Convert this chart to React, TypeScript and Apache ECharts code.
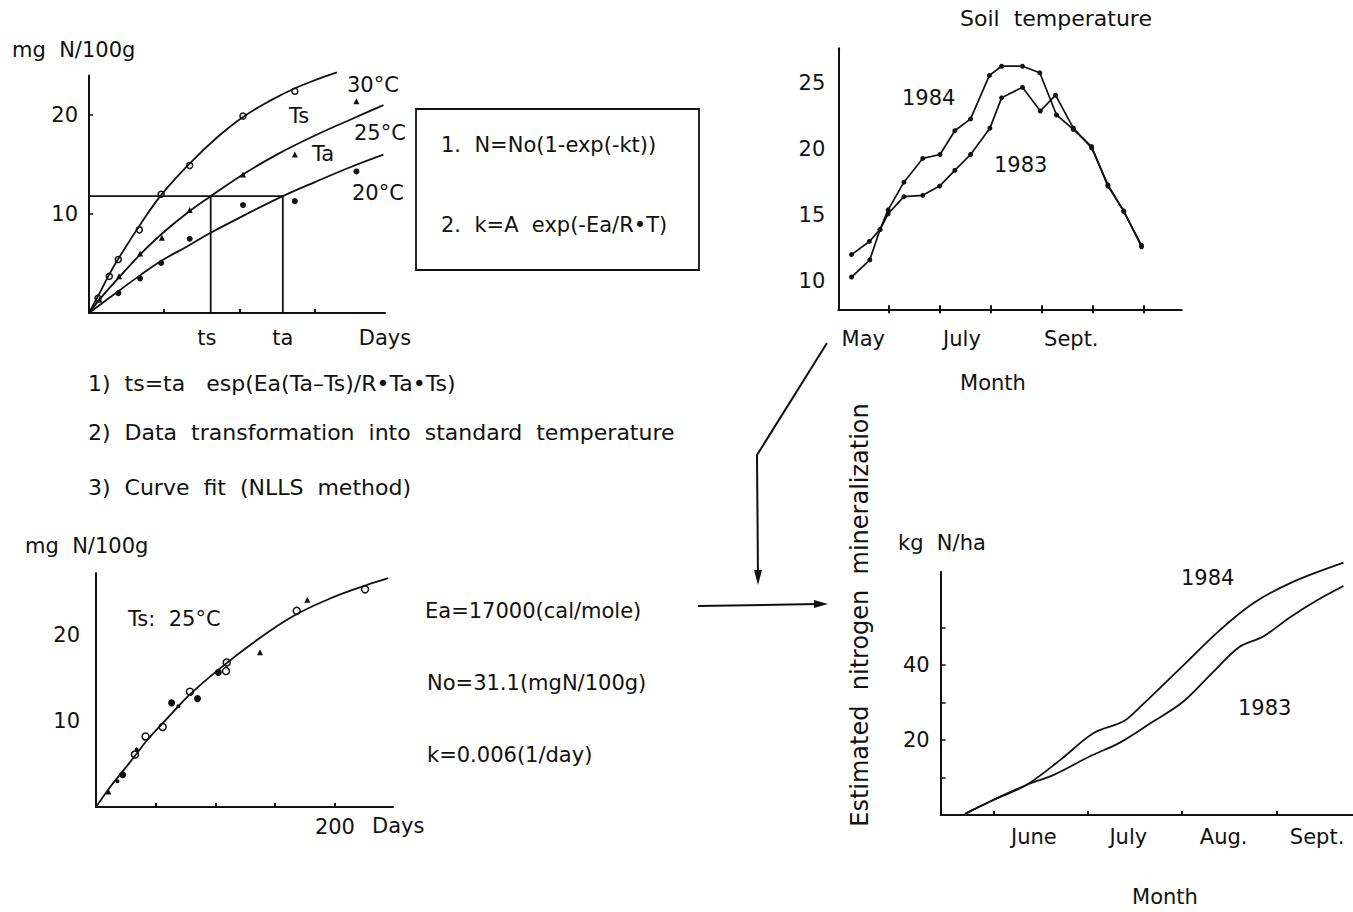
import React, { useEffect, useRef } from "react";
import * as echarts from "echarts";

// ---------- Panel 1: incubation curves (x in tick units, y mg N/100g) ----------
const curve30 = [[0,0],[0.12,1.7],[0.27,3.9],[0.4,5.6],[0.67,8.8],[0.96,11.9],[1.34,15.1],[1.7,17.7],[2.05,19.8],[2.4,21.4],[2.74,22.7],[3.0,23.5],[3.3,24.3]];
const curve25 = [[0,0],[0.2,1.9],[0.4,3.6],[0.68,5.9],[0.97,8.0],[1.34,10.3],[1.62,11.8],[2.05,14.0],[2.5,16.0],[3.0,17.9],[3.5,19.6],[3.92,21.0]];
const curve20 = [[0,0],[0.39,2.2],[0.68,3.8],[0.97,5.3],[1.3,6.7],[1.62,8.1],[2.1,10.0],[2.58,11.8],[3.0,13.2],[3.5,14.8],[3.92,16.0]];
const pts30 = [[0.12,1.5],[0.27,3.7],[0.39,5.4],[0.67,8.4],[0.96,12.0],[1.34,14.9],[2.05,19.9],[2.74,22.4]];
const pts25 = [[0.14,1.35],[0.4,3.7],[0.68,6.0],[0.97,7.6],[1.34,10.4],[2.05,14.0],[2.74,16.0],[3.56,21.4]];
const pts20 = [[0.39,2.0],[0.68,3.5],[0.96,5.05],[1.34,7.5],[2.05,10.9],[2.74,11.3],[3.56,14.3]];
const level = 11.8;
const tsDay = 1.62;
const taDay = 2.58;
const p1XMax = 3.94;
const p1XTicks = [1, 2, 3];
const p1XLabelPos = [1.57, 2.58, 3.94];
const p1XLabelText = ["ts", "ta", "Days"];
const p1YLabels = [10, 20];

// ---------- Panel 2: soil temperature (x in months from May 1) ----------
const soil1984 = [[0.26,10.3],[0.62,11.6],[0.82,13.9],[0.98,15.4],[1.29,17.5],[1.66,19.3],[2.0,19.6],[2.29,21.4],[2.6,22.3],[2.97,25.6],[3.21,26.3],[3.62,26.3],[3.96,25.8],[4.29,22.6],[4.62,21.5],[4.98,20.2],[5.3,17.2],[5.61,15.3],[5.96,12.7]];
const soil1983 = [[0.26,12.0],[0.61,13.0],[0.82,13.9],[0.98,15.1],[1.29,16.4],[1.66,16.5],[1.99,17.2],[2.29,18.4],[2.6,19.6],[2.98,21.6],[3.21,23.9],[3.62,24.7],[3.97,22.9],[4.27,24.1],[4.62,21.6],[4.98,20.1],[5.3,17.3],[5.61,15.3],[5.96,12.6]];
const p2MonthTicks = [1, 2, 3, 4, 5, 6];
const p2MonthLabelPos = [0.49, 2.43, 4.58];
const p2MonthLabelText = ["May", "July", "Sept."];
const p2YLabels = [10, 15, 20, 25];

// ---------- Panel 3: standard temperature fit (days, mg N/100g) ----------
const fitCurve = [[0,0],[11.7,2.3],[21.5,4.0],[33.5,6.1],[42.4,7.7],[56.3,9.8],[68.9,11.7],[78.6,13.1],[101,15.8],[131.7,19.1],[165.2,22.2],[198.7,24.4],[226.5,25.8],[244.6,26.6]];
const fitOpen = [[32.6,6.1],[41.5,8.2],[55.8,9.3],[78.6,13.4],[108.8,15.8],[109.4,16.8],[168,22.8],[225.2,25.3]];
const fitFilled = [[22.3,3.75],[63.3,12.1],[85,12.6],[102.4,15.65]];
const fitSmall = [[34,6.7],[68.9,11.7],[18,3.0]];
const fitTriangle = [[10.3,1.8],[137.3,18.0],[176.9,24.1]];
const p3XTicks = [50, 100, 150, 200];
const p3XLabels = [200];
const p3YLabels = [10, 20];

// ---------- Panel 4: estimated N mineralization (x in months, 1 = June 1) ----------
const min1984 = [[0.70,0.3],[1.0,4.0],[1.35,8.0],[1.71,14.7],[2.06,21.8],[2.38,25.0],[2.55,28.7],[2.98,39.1],[3.4,49.3],[3.75,56.4],[4.14,61.8],[4.71,67.3]];
const min1983 = [[0.70,0.3],[1.0,4.0],[1.35,8.0],[1.64,10.7],[2.02,15.6],[2.34,19.3],[2.66,24.4],[3.01,30.2],[3.33,38.2],[3.61,44.9],[3.86,47.6],[4.14,52.7],[4.43,57.3],[4.71,61.1]];
const p4MonthTicks = [1, 2, 3, 4];
const p4MonthLabelPos = [1.43, 2.43, 3.44, 4.43];
const p4MonthLabelText = ["June", "July", "Aug.", "Sept."];
const p4YTicks = [10, 20, 30, 40, 50];
const p4YLabels = [20, 40];

const INK = "#111";
const FONT = "DejaVu Sans";
const FS = 21;

function lookup(pos: number[], txt: string[]) {
  return (v: number) => {
    const i = pos.findIndex((p) => Math.abs(p - v) < 1e-6);
    return i >= 0 ? txt[i] : "";
  };
}

const axisLine = { show: true, onZero: false, lineStyle: { color: INK, width: 2 } };
const labelStyle = { color: INK, fontFamily: FONT, fontSize: FS };

function txt(text: string, x: number, y: number, align = "left", extra: any = {}, fs = FS) {
  return {
    type: "text",
    x,
    y,
    ...extra,
    style: { text, fill: INK, fontFamily: FONT, fontSize: fs, align, verticalAlign: "middle" },
  };
}

export default function App() {
  const ref = useRef<HTMLDivElement>(null);
  useEffect(() => {
    if (!ref.current) return;
    const chart = echarts.init(ref.current, null, { renderer: "svg" });
    const line = (xi: number, yi: number, data: any, smooth: any = 0.3, width = 1.8) => ({
      type: "line", xAxisIndex: xi, yAxisIndex: yi,
      data, smooth, showSymbol: false, clip: false, silent: true,
      lineStyle: { color: INK, width },
    });
    const scatter = (xi: number, yi: number, data: any, symbol: string, size: number, open = false) => ({
      type: "scatter", xAxisIndex: xi, yAxisIndex: yi, data, symbol, symbolSize: size, silent: true, clip: false,
      itemStyle: { color: open ? "#fff" : INK, borderColor: INK, borderWidth: open ? 1.5 : 0, opacity: 1 },
    });
    const option: any = {
      animation: false,
      backgroundColor: "#fff",
      textStyle: { fontFamily: FONT },
      grid: [
        { left: 89, top: 75.4, width: 296, height: 237.6, outerBoundsMode: "none" },
        { left: 838.3, top: 48.3, width: 343.4, height: 261, outerBoundsMode: "none" },
        { left: 96, top: 573, width: 297, height: 234, outerBoundsMode: "none" },
        { left: 940.7, top: 571.7, width: 412.3, height: 243.3, outerBoundsMode: "none" },
      ],
      xAxis: [
        {
          type: "value", gridIndex: 0, min: 0, max: p1XMax, axisLine, splitLine: { show: false },
          axisTick: { show: true, inside: true, length: 4, customValues: p1XTicks, lineStyle: { color: INK, width: 2 } },
          axisLabel: { ...labelStyle, margin: 14, customValues: p1XLabelPos, formatter: lookup(p1XLabelPos, p1XLabelText) },
        },
        {
          type: "value", gridIndex: 1, position: "bottom", min: 0, max: 6.75, axisLine, splitLine: { show: false },
          axisTick: { show: true, inside: false, length: 4, customValues: p2MonthTicks, lineStyle: { color: INK, width: 2 } },
          axisLabel: { ...labelStyle, margin: 19, customValues: p2MonthLabelPos, formatter: lookup(p2MonthLabelPos, p2MonthLabelText) },
        },
        {
          type: "value", gridIndex: 1, position: "bottom", offset: 0, min: 0, max: 6.75, axisLine: { show: false }, splitLine: { show: false },
          axisTick: { show: true, inside: true, length: 4, customValues: p2MonthTicks, lineStyle: { color: INK, width: 2 } },
          axisLabel: { show: false },
        },
        {
          type: "value", gridIndex: 2, min: 0, max: 248.6, axisLine, splitLine: { show: false },
          axisTick: { show: true, inside: true, length: 4, customValues: p3XTicks, lineStyle: { color: INK, width: 2 } },
          axisLabel: { ...labelStyle, margin: 9, customValues: p3XLabels },
        },
        {
          type: "value", gridIndex: 3, min: 0.443, max: 4.81, axisLine, splitLine: { show: false },
          axisTick: { show: true, inside: true, length: 4, customValues: p4MonthTicks, lineStyle: { color: INK, width: 2 } },
          axisLabel: { ...labelStyle, margin: 11, customValues: p4MonthLabelPos, formatter: lookup(p4MonthLabelPos, p4MonthLabelText) },
        },
      ],
      yAxis: [
        {
          type: "value", gridIndex: 0, min: 0, max: 24, axisLine, splitLine: { show: false },
          axisTick: { show: true, inside: true, length: 4, customValues: p1YLabels, lineStyle: { color: INK, width: 1.5 } },
          axisLabel: { ...labelStyle, margin: 11, customValues: p1YLabels },
        },
        {
          type: "value", gridIndex: 1, min: 7.85, max: 27.66, axisLine, splitLine: { show: false },
          axisTick: { show: false },
          axisLabel: { ...labelStyle, margin: 13, customValues: p2YLabels },
        },
        {
          type: "value", gridIndex: 2, min: 0, max: 27.2, axisLine, splitLine: { show: false },
          axisTick: { show: false },
          axisLabel: { ...labelStyle, margin: 16, customValues: p3YLabels },
        },
        {
          type: "value", gridIndex: 3, min: 0, max: 64.9, axisLine, splitLine: { show: false },
          axisTick: { show: true, inside: true, length: 5, customValues: p4YTicks, lineStyle: { color: INK, width: 1.5 } },
          axisLabel: { ...labelStyle, margin: 11, customValues: p4YLabels },
        },
      ],
      series: [
        // panel 1
        line(0, 0, curve30, 0.4),
        line(0, 0, curve25, 0.4),
        line(0, 0, curve20, 0.4),
        line(0, 0, [[0, level], [taDay, level]], false),
        line(0, 0, [[tsDay, 0], [tsDay, level]], false),
        line(0, 0, [[taDay, 0], [taDay, level]], false),
        scatter(0, 0, pts30, "circle", 6, true),
        scatter(0, 0, pts25, "triangle", 6),
        scatter(0, 0, pts20, "circle", 6),
        // panel 2
        { ...line(1, 1, soil1984, false, 1.7), showSymbol: true, symbol: "circle", symbolSize: 5, itemStyle: { color: INK } },
        { ...line(1, 1, soil1983, false, 1.7), showSymbol: true, symbol: "circle", symbolSize: 5, itemStyle: { color: INK } },
        // panel 3
        line(3, 2, fitCurve, 0.4),
        scatter(3, 2, fitOpen, "circle", 7, true),
        scatter(3, 2, fitFilled, "circle", 7),
        scatter(3, 2, fitSmall, "circle", 4),
        scatter(3, 2, fitTriangle, "triangle", 6),
        // panel 4
        line(4, 3, min1984, 0.35),
        line(4, 3, min1983, 0.35),
      ],
      graphic: [
        txt("mg  N/100g", 12, 50),
        txt("30°C", 347, 85),
        txt("Ts", 289, 116),
        txt("25°C", 354, 133),
        txt("Ta", 312, 154),
        txt("20°C", 352, 193),
        { type: "rect", shape: { x: 416, y: 109, width: 283, height: 161 }, style: { fill: "none", stroke: INK, lineWidth: 1.8 } },
        txt("1.  N=No(1-exp(-kt))", 441, 145),
        txt("2.  k=A  exp(-Ea/R•T)", 441, 225),
        txt("1)  ts=ta   esp(Ea(Ta–Ts)/R•Ta•Ts)", 88, 383, "left", {}, 22),
        txt("2)  Data  transformation  into  standard  temperature", 88, 432, "left", {}, 22),
        txt("3)  Curve  fit  (NLLS  method)", 88, 487, "left", {}, 22),
        txt("Soil  temperature", 960, 18, "left", {}, 22),
        txt("1984", 902, 98),
        txt("1983", 994, 165),
        txt("Month", 993, 383, "center"),
        txt("mg  N/100g", 25, 546),
        txt("Ts:  25°C", 128, 619),
        txt("Days", 372, 826),
        txt("Ea=17000(cal/mole)", 425, 611),
        txt("No=31.1(mgN/100g)", 427, 683),
        txt("k=0.006(1/day)", 427, 755),
        txt("kg  N/ha", 898, 543),
        txt("1984", 1181, 578),
        txt("1983", 1238, 708),
        txt("Month", 1165, 897, "center"),
        txt("Estimated  nitrogen  mineralization", 860, 615, "center", { rotation: Math.PI / 2 }, 24),
        { type: "polyline", shape: { points: [[827, 343], [757, 455], [758, 578]] }, style: { fill: "none", stroke: INK, lineWidth: 2 } },
        { type: "polygon", shape: { points: [[754, 570], [762, 570], [758, 585]] }, style: { fill: INK } },
        { type: "line", shape: { x1: 698, y1: 606, x2: 818, y2: 604 }, style: { stroke: INK, lineWidth: 2 } },
        { type: "polygon", shape: { points: [[814, 600], [814, 608], [828, 604]] }, style: { fill: INK } },
      ],
    };
    chart.setOption(option);
    return () => chart.dispose();
  }, []);
  return (
    <div
      ref={ref}
      style={{ position: "fixed", left: 0, top: 0, width: 1353, height: 912, background: "#fff" }}
    />
  );
}
